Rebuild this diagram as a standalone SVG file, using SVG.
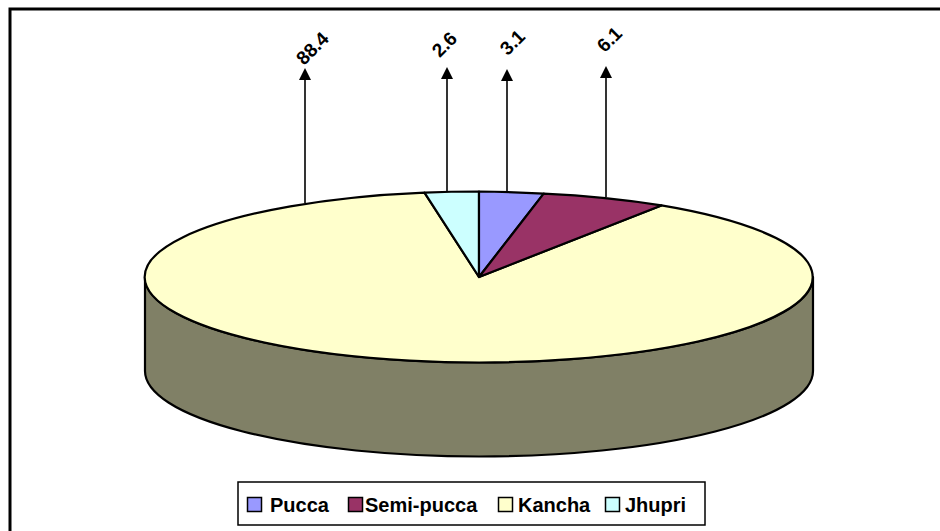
<svg xmlns="http://www.w3.org/2000/svg" width="940" height="531" viewBox="0 0 940 531">
<style>
.edge{stroke:#000;stroke-width:2.2;stroke-linejoin:round}
.lead{stroke:#000;stroke-width:1.6;fill:none}
.head{fill:#000}
.lbl{font-family:"Liberation Sans",Arial,sans-serif;font-weight:bold;font-size:19px;fill:#000;text-anchor:middle}
.leg{font-family:"Liberation Sans",Arial,sans-serif;font-weight:bold;font-size:20px;fill:#000}
.sw{stroke:#000;stroke-width:1.5}
</style>
<rect x="0" y="0" width="940" height="531" fill="#fff"/>
<rect x="10" y="9" width="960" height="560" fill="none" stroke="#000" stroke-width="3"/>
<g id="pie-side">
<path class="edge" d="M145,277 L145,371 A334,85.5 0 0 0 813,371 L813,277 A334,85.5 0 0 1 145,277 Z" fill="#808066"/>
</g>
<g id="slice-kancha">
<path class="edge" d="M479,277 L661.4,205.4 A334,85.5 0 1 1 424.5,192.6 Z" fill="#FFFFCC"/>
</g>
<g id="slice-jhupri">
<path class="edge" d="M479,277 L424.5,192.6 A334,85.5 0 0 1 479,191.5 Z" fill="#CCFFFF"/>
</g>
<g id="slice-pucca">
<path class="edge" d="M479,277 L479,191.5 A334,85.5 0 0 1 543.7,193.6 Z" fill="#9999FF"/>
</g>
<g id="slice-semipucca">
<path class="edge" d="M479,277 L543.7,193.6 A334,85.5 0 0 1 661.4,205.4 Z" fill="#993366"/>
</g>
<g id="connectors">
<line class="lead" x1="305" y1="203" x2="305" y2="78"/>
<path class="head" d="M305,68 L311,80 L299,80 Z"/>
<line class="lead" x1="447" y1="191" x2="447" y2="77"/>
<path class="head" d="M447,67 L453,79 L441,79 Z"/>
<line class="lead" x1="507" y1="191" x2="507" y2="79"/>
<path class="head" d="M507,69 L513,81 L501,81 Z"/>
<line class="lead" x1="606" y1="197" x2="606" y2="76"/>
<path class="head" d="M606,66 L612,78 L600,78 Z"/>
</g>
<g id="labels">
<text class="lbl" transform="translate(317,53) rotate(-45)">88.4</text>
<text class="lbl" transform="translate(449,49) rotate(-45)">2.6</text>
<text class="lbl" transform="translate(517,47) rotate(-45)">3.1</text>
<text class="lbl" transform="translate(614,44) rotate(-45)">6.1</text>
</g>
<g id="legend">
<rect x="238" y="482" width="467" height="43" fill="#fff" stroke="#000" stroke-width="1.5"/>
<rect class="sw" x="247.5" y="497.5" width="14" height="14" fill="#9999FF"/>
<text class="leg" x="270" y="512">Pucca</text>
<rect class="sw" x="348.5" y="497.5" width="14" height="14" fill="#993366"/>
<text class="leg" x="365" y="512">Semi-pucca</text>
<rect class="sw" x="498.5" y="497.5" width="14" height="14" fill="#FFFFCC"/>
<text class="leg" x="518" y="512">Kancha</text>
<rect class="sw" x="605.5" y="497.5" width="14" height="14" fill="#CCFFFF"/>
<text class="leg" x="625" y="512">Jhupri</text>
</g>
</svg>
